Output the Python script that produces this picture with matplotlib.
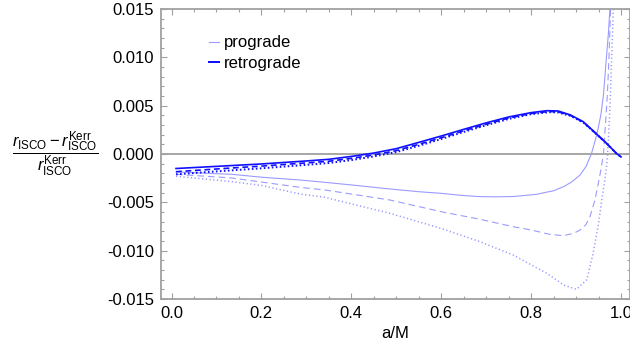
import matplotlib
matplotlib.use("Agg")
import matplotlib.pyplot as plt
from matplotlib.ticker import MultipleLocator, FormatStrFormatter
from matplotlib.lines import Line2D

plt.rcParams['font.family'] = ['Liberation Sans', 'DejaVu Sans']
plt.rcParams['mathtext.fontset'] = 'custom'
plt.rcParams['mathtext.rm'] = 'Liberation Sans'
plt.rcParams['mathtext.it'] = 'Liberation Sans:italic'
plt.rcParams['mathtext.sf'] = 'Liberation Sans'

# ---- data ----
retro_solid_a = [0.01, 0.1, 0.2, 0.3, 0.35, 0.4, 0.45, 0.5, 0.55, 0.6, 0.65, 0.7, 0.75, 0.8, 0.835, 0.86, 0.887, 0.916, 0.938, 0.968, 0.99, 1.0]
retro_solid_v = [-0.0015, -0.00128, -0.00103, -0.00072, -0.00055, -0.00025, 0.0001, 0.00055, 0.0012, 0.00186, 0.00255, 0.00322, 0.00383, 0.00428, 0.00448, 0.00445, 0.00405, 0.00334, 0.0024, 0.0011, 0.00005, -0.0003]

retro_dash_a = [0.01, 0.1, 0.2, 0.3, 0.35, 0.4, 0.45, 0.5, 0.55, 0.6, 0.65, 0.7, 0.75, 0.8, 0.84, 0.86, 0.887, 0.916, 0.938, 0.968, 0.99, 1.0]
retro_dash_v = [-0.00183, -0.00155, -0.00125, -0.00092, -0.00075, -0.00045, -0.0001, 0.00035, 0.001, 0.00168, 0.0024, 0.00308, 0.00372, 0.00419, 0.0044, 0.00437, 0.004, 0.0033, 0.00238, 0.0011, 0.00005, -0.0003]

retro_dot_a = [0.01, 0.1, 0.2, 0.3, 0.35, 0.4, 0.45, 0.5, 0.55, 0.6, 0.65, 0.7, 0.75, 0.8, 0.84, 0.86, 0.887, 0.916, 0.938, 0.968, 0.99, 1.0]
retro_dot_v = [-0.0021, -0.0018, -0.00148, -0.00112, -0.00093, -0.00063, -0.00025, 0.0002, 0.00085, 0.00155, 0.00228, 0.00298, 0.00363, 0.00412, 0.00433, 0.0043, 0.00396, 0.00326, 0.00236, 0.0011, 0.00005, -0.0003]

pro_solid_a = [0.01, 0.134, 0.2, 0.286, 0.341, 0.4, 0.486, 0.55, 0.6, 0.65, 0.686, 0.72, 0.76, 0.812, 0.85, 0.872, 0.89, 0.909, 0.922, 0.934, 0.946, 0.955, 0.961, 0.967, 0.972, 0.9755]
pro_solid_v = [-0.00186, -0.0021, -0.0024, -0.00269, -0.00293, -0.0032, -0.00362, -0.0039, -0.00407, -0.0043, -0.00441, -0.00443, -0.0044, -0.00417, -0.0038, -0.00338, -0.0029, -0.00217, -0.0013, 0.0, 0.00197, 0.004, 0.0061, 0.0097, 0.0125, 0.0152]

pro_dash_a = [0.01, 0.134, 0.286, 0.341, 0.486, 0.6, 0.686, 0.76, 0.8, 0.84, 0.872, 0.895, 0.909, 0.922, 0.931, 0.942, 0.95, 0.955, 0.961, 0.966, 0.9696, 0.973, 0.977]
pro_dash_v = [-0.0021, -0.00248, -0.00345, -0.00372, -0.00476, -0.00597, -0.00675, -0.00752, -0.00786, -0.0083, -0.00845, -0.0082, -0.00786, -0.0073, -0.00648, -0.00476, -0.0029, -0.0017, 0.0, 0.0035, 0.0061, 0.0097, 0.0152]

pro_dot_a = [0.01, 0.134, 0.2, 0.286, 0.341, 0.486, 0.6, 0.686, 0.76, 0.835, 0.872, 0.901, 0.924, 0.938, 0.95, 0.958, 0.964, 0.969, 0.972, 0.976, 0.979, 0.983]
pro_dot_v = [-0.0023, -0.00286, -0.00325, -0.00414, -0.00448, -0.00614, -0.0077, -0.00907, -0.01045, -0.01234, -0.01355, -0.0140, -0.0130, -0.01027, -0.0072, -0.0045, -0.0027, -0.0008, 0.0015, 0.0055, 0.0097, 0.0152]

legend_labels = ["prograde", "retrograde"]
x_label = "a/M"
y_label = r"$\dfrac{r_{\mathrm{ISCO}}-r^{\mathrm{Kerr}}_{\mathrm{ISCO}}}{r^{\mathrm{Kerr}}_{\mathrm{ISCO}}}$"

# ---- styling ----
PRO_C = "#9b9bff"
RET_C = "#1010ff"
FRAME_C = "#a0a0a0"

fig = plt.figure(figsize=(6.3, 3.51), dpi=100)
W, H = 630, 351
ax = fig.add_axes([161 / W, 1 - 299 / H, (630 - 161) / W, (299 - 9) / H])

ax.axhline(0, color=FRAME_C, lw=1.3, zorder=1)

pw, rw = 0.8, 1.2
ax.plot(pro_solid_a, pro_solid_v, color=PRO_C, lw=pw, zorder=2)
ax.plot(pro_dash_a, pro_dash_v, color=PRO_C, lw=pw, dashes=(6.0, 3.6), zorder=2)
ax.plot(pro_dot_a, pro_dot_v, color=PRO_C, lw=pw * 1.4, dashes=(0.8, 1.6), zorder=2)
ax.plot(retro_dot_a, retro_dot_v, color=RET_C, lw=rw * 1.2, dashes=(0.8, 1.2), zorder=3)
ax.plot(retro_dash_a, retro_dash_v, color=RET_C, lw=rw, dashes=(3.5, 2.2), zorder=3)
ax.plot(retro_solid_a, retro_solid_v, color=RET_C, lw=rw, zorder=4)

ax.set_xlim(-0.0234, 1.02)
ax.set_ylim(-0.015, 0.015)

ax.xaxis.set_major_locator(MultipleLocator(0.2))
ax.xaxis.set_minor_locator(MultipleLocator(0.05))
ax.yaxis.set_major_locator(MultipleLocator(0.005))
ax.yaxis.set_minor_locator(MultipleLocator(0.001))
ax.xaxis.set_major_formatter(FormatStrFormatter('%.1f'))
ax.yaxis.set_major_formatter(FormatStrFormatter('%.3f'))

ax.tick_params(which='both', direction='in', top=True, right=True, color=FRAME_C,
               labelsize=12, labelcolor='black', width=0.8)
ax.tick_params(which='major', length=4, pad=5)
ax.tick_params(which='minor', length=2.2)
for s in ax.spines.values():
    s.set_color(FRAME_C)
    s.set_linewidth(1.3)

ax.set_xlabel(x_label, fontsize=12, labelpad=4)
fig.text(55 / W, 1 - 154 / H, y_label, fontsize=12, ha='center', va='center')

handles = [Line2D([], [], color=PRO_C, lw=pw), Line2D([], [], color=RET_C, lw=rw * 1.2)]
ax.legend(handles, legend_labels, loc='upper left', bbox_to_anchor=(0.088, 0.932), frameon=False,
          fontsize=12, handlelength=0.6, handletextpad=0.3, labelspacing=0.35, borderaxespad=0)

fig.savefig("out.png", dpi=100)
